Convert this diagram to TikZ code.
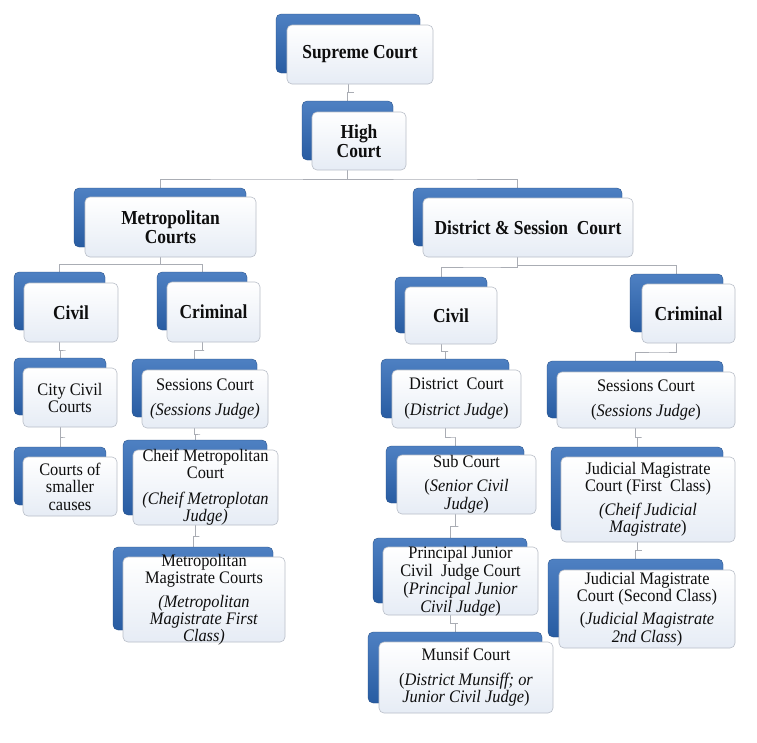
\documentclass[tikz,border=0pt]{standalone}
\usepackage{fontspec}
\setmainfont{Liberation Serif}
\newfontfamily\regfam{Liberation Serif}[FakeStretch=0.93]
\newfontfamily\boldfam{Liberation Serif}[FakeStretch=0.88]
\usetikzlibrary{calc,backgrounds}
\definecolor{bluetop}{RGB}{78,128,194}
\definecolor{bluebot}{RGB}{40,92,162}
\definecolor{fronttop}{RGB}{255,255,255}
\definecolor{frontbot}{RGB}{230,236,245}
\definecolor{frontline}{RGB}{185,190,200}
\definecolor{connline}{RGB}{170,173,180}
\definecolor{txtcol}{RGB}{14,14,14}
\tikzset{
  bluebox/.style={rectangle, rounded corners=5pt, top color=bluetop, bottom color=bluebot, draw=bluebot!80!black, line width=0.3pt, inner sep=0pt, outer sep=0pt},
  frontbox/.style={rectangle, rounded corners=5pt, top color=fronttop, bottom color=frontbot, draw=frontline, line width=0.6pt, inner sep=0pt, outer sep=0pt},
  txt/.style={align=center, text=txtcol, inner sep=0pt, font=\regfam\fontsize{17.6}{17}\selectfont},
  btxt/.style={align=center, text=txtcol, inner sep=0pt, font=\boldfam\fontsize{19.8}{18.5}\selectfont\bfseries},
  conn/.style={draw=connline, line width=0.7pt}
}
\newcommand\crt[9]{%
  \node[bluebox, anchor=north west, minimum width=#4pt, minimum height=#5pt] (#1) at (#2,#3) {};
  \node[frontbox, anchor=north west, minimum width=#8pt, minimum height=#9pt] (#1f) at (#6,#7) {};
}
\newcommand\lnk[2]{\draw[conn] (#1.south) |- ($(#1f.south)!.5!(#2.north)$) -| (#2.north);}
\begin{document}
\begin{tikzpicture}[x=1pt,y=-1pt]
\useasboundingbox (0,0) rectangle (757,742);

% top levels
\crt{sc}{276}{14}{144}{59}{287}{25}{146}{59}
\node[btxt] (sct) at (scf.center) {Supreme Court};
\crt{hc}{302}{101}{91}{59}{312}{112}{94}{58}
\node[btxt] (hct) at (hcf.center) {High\\Court};
\crt{mc}{74}{188}{172}{59}{85}{197}{171}{60}
\node[btxt] (mct) at (mcf.center) {Metropolitan\\Courts};
\crt{dc}{413}{188}{209}{58}{423}{198}{210}{59}
\node[btxt] (dct) at (dcf.center) {District \& Session\ \ Court};

% metropolitan branch
\crt{mcv}{14}{272}{91}{58}{24}{283}{94}{59}
\node[btxt] (mcvt) at (mcvf.center) {Civil};
\crt{mcr}{157}{272}{90}{58}{167}{282}{93}{60}
\node[btxt] (mcrt) at (mcrf.center) {Criminal};
\crt{ccc}{14}{358}{92}{57}{23}{368}{94}{59}
\node[txt] (ccct) at (cccf.center) {City Civil\\Courts};
\crt{csc}{14}{447}{92}{58}{23}{457}{94}{59}
\node[txt] (csct) at (cscf.center) {Courts of\\[0.5pt]smaller\\[0.5pt]causes};
\crt{msc}{132}{359}{125}{58}{142}{370}{126}{58}
\node[txt] (msct) at (mscf.center) {Sessions Court\\[8pt]\textit{(Sessions Judge)}};
\crt{cmc}{123}{440}{144}{75}{133}{450}{145}{75}
\node[txt] (cmct) at (cmcf.center) {Cheif Metropolitan\\Court\\[9pt]\textit{(Cheif Metroplotan}\\\textit{Judge)}};
\crt{mmc}{113}{547}{160}{83}{123}{557}{162}{85}
\node[txt] (mmct) at (mmcf.center) {Metropolitan\\Magistrate Courts\\[7pt]\textit{(Metropolitan}\\\textit{Magistrate First}\\\textit{Class)}};

% district branch
\crt{dcv}{395}{277}{92}{56}{405}{287}{92}{57}
\node[btxt] (dcvt) at (dcvf.center) {Civil};
\crt{dcr}{630}{274}{93}{58}{642}{284}{93}{59}
\node[btxt] (dcrt) at (dcrf.center) {Criminal};
\crt{dst}{381}{359}{128}{59}{392}{370}{129}{58}
\node[txt] (dstt) at (dstf.center) {District\ \ Court\\[9pt](\textit{District Judge})};
\crt{sub}{386}{446}{138}{57}{397}{455}{139}{59}
\node[txt] (subt) at (subf.center) {Sub Court\\[7pt](\textit{Senior Civil}\\[1pt]\textit{Judge})};
\crt{pjc}{373}{538}{154}{65}{383}{547}{155}{68}
\node[txt] (pjct) at (pjcf.center) {Principal Junior\\[1pt]Civil\ \ Judge Court\\[1pt](\textit{Principal Junior}\\[1pt]\textit{Civil Judge})};
\crt{mun}{368}{632}{174}{71}{379}{642}{174}{71}
\node[txt] (munt) at (munf.center) {Munsif Court\\[8pt](\textit{District Munsiff; or}\\\textit{Junior Civil Judge})};
\crt{dss}{547}{361}{176}{57}{557}{372}{178}{56}
\node[txt] (dsst) at (dssf.center) {Sessions Court\\[8pt](\textit{Sessions Judge})};
\crt{jmf}{551}{447}{172}{83}{561}{457}{174}{85}
\node[txt] (jmft) at (jmff.center) {Judicial Magistrate\\Court (First\ \ Class)\\[7pt]\textit{(Cheif Judicial}\\\textit{Magistrate})};
\crt{jms}{548}{559}{175}{78}{559}{570}{176}{78}
\node[txt] (jmst) at (jmsf.center) {Judicial Magistrate\\Court (Second Class)\\[6pt](\textit{Judicial Magistrate}\\[1pt]\textit{2nd Class})};

\begin{scope}[on background layer]
\fill[white] (0,0) rectangle (757,742);
\lnk{sc}{hc}
\lnk{hc}{mc}
\lnk{hc}{dc}
\lnk{mc}{mcv}
\lnk{mc}{mcr}
\lnk{mcv}{ccc}
\lnk{ccc}{csc}
\lnk{mcr}{msc}
\lnk{msc}{cmc}
\lnk{cmc}{mmc}
\lnk{dc}{dcv}
\lnk{dc}{dcr}
\lnk{dcv}{dst}
\lnk{dst}{sub}
\lnk{sub}{pjc}
\lnk{pjc}{mun}
\lnk{dcr}{dss}
\lnk{dss}{jmf}
\lnk{jmf}{jms}
\end{scope}
\end{tikzpicture}
\end{document}
